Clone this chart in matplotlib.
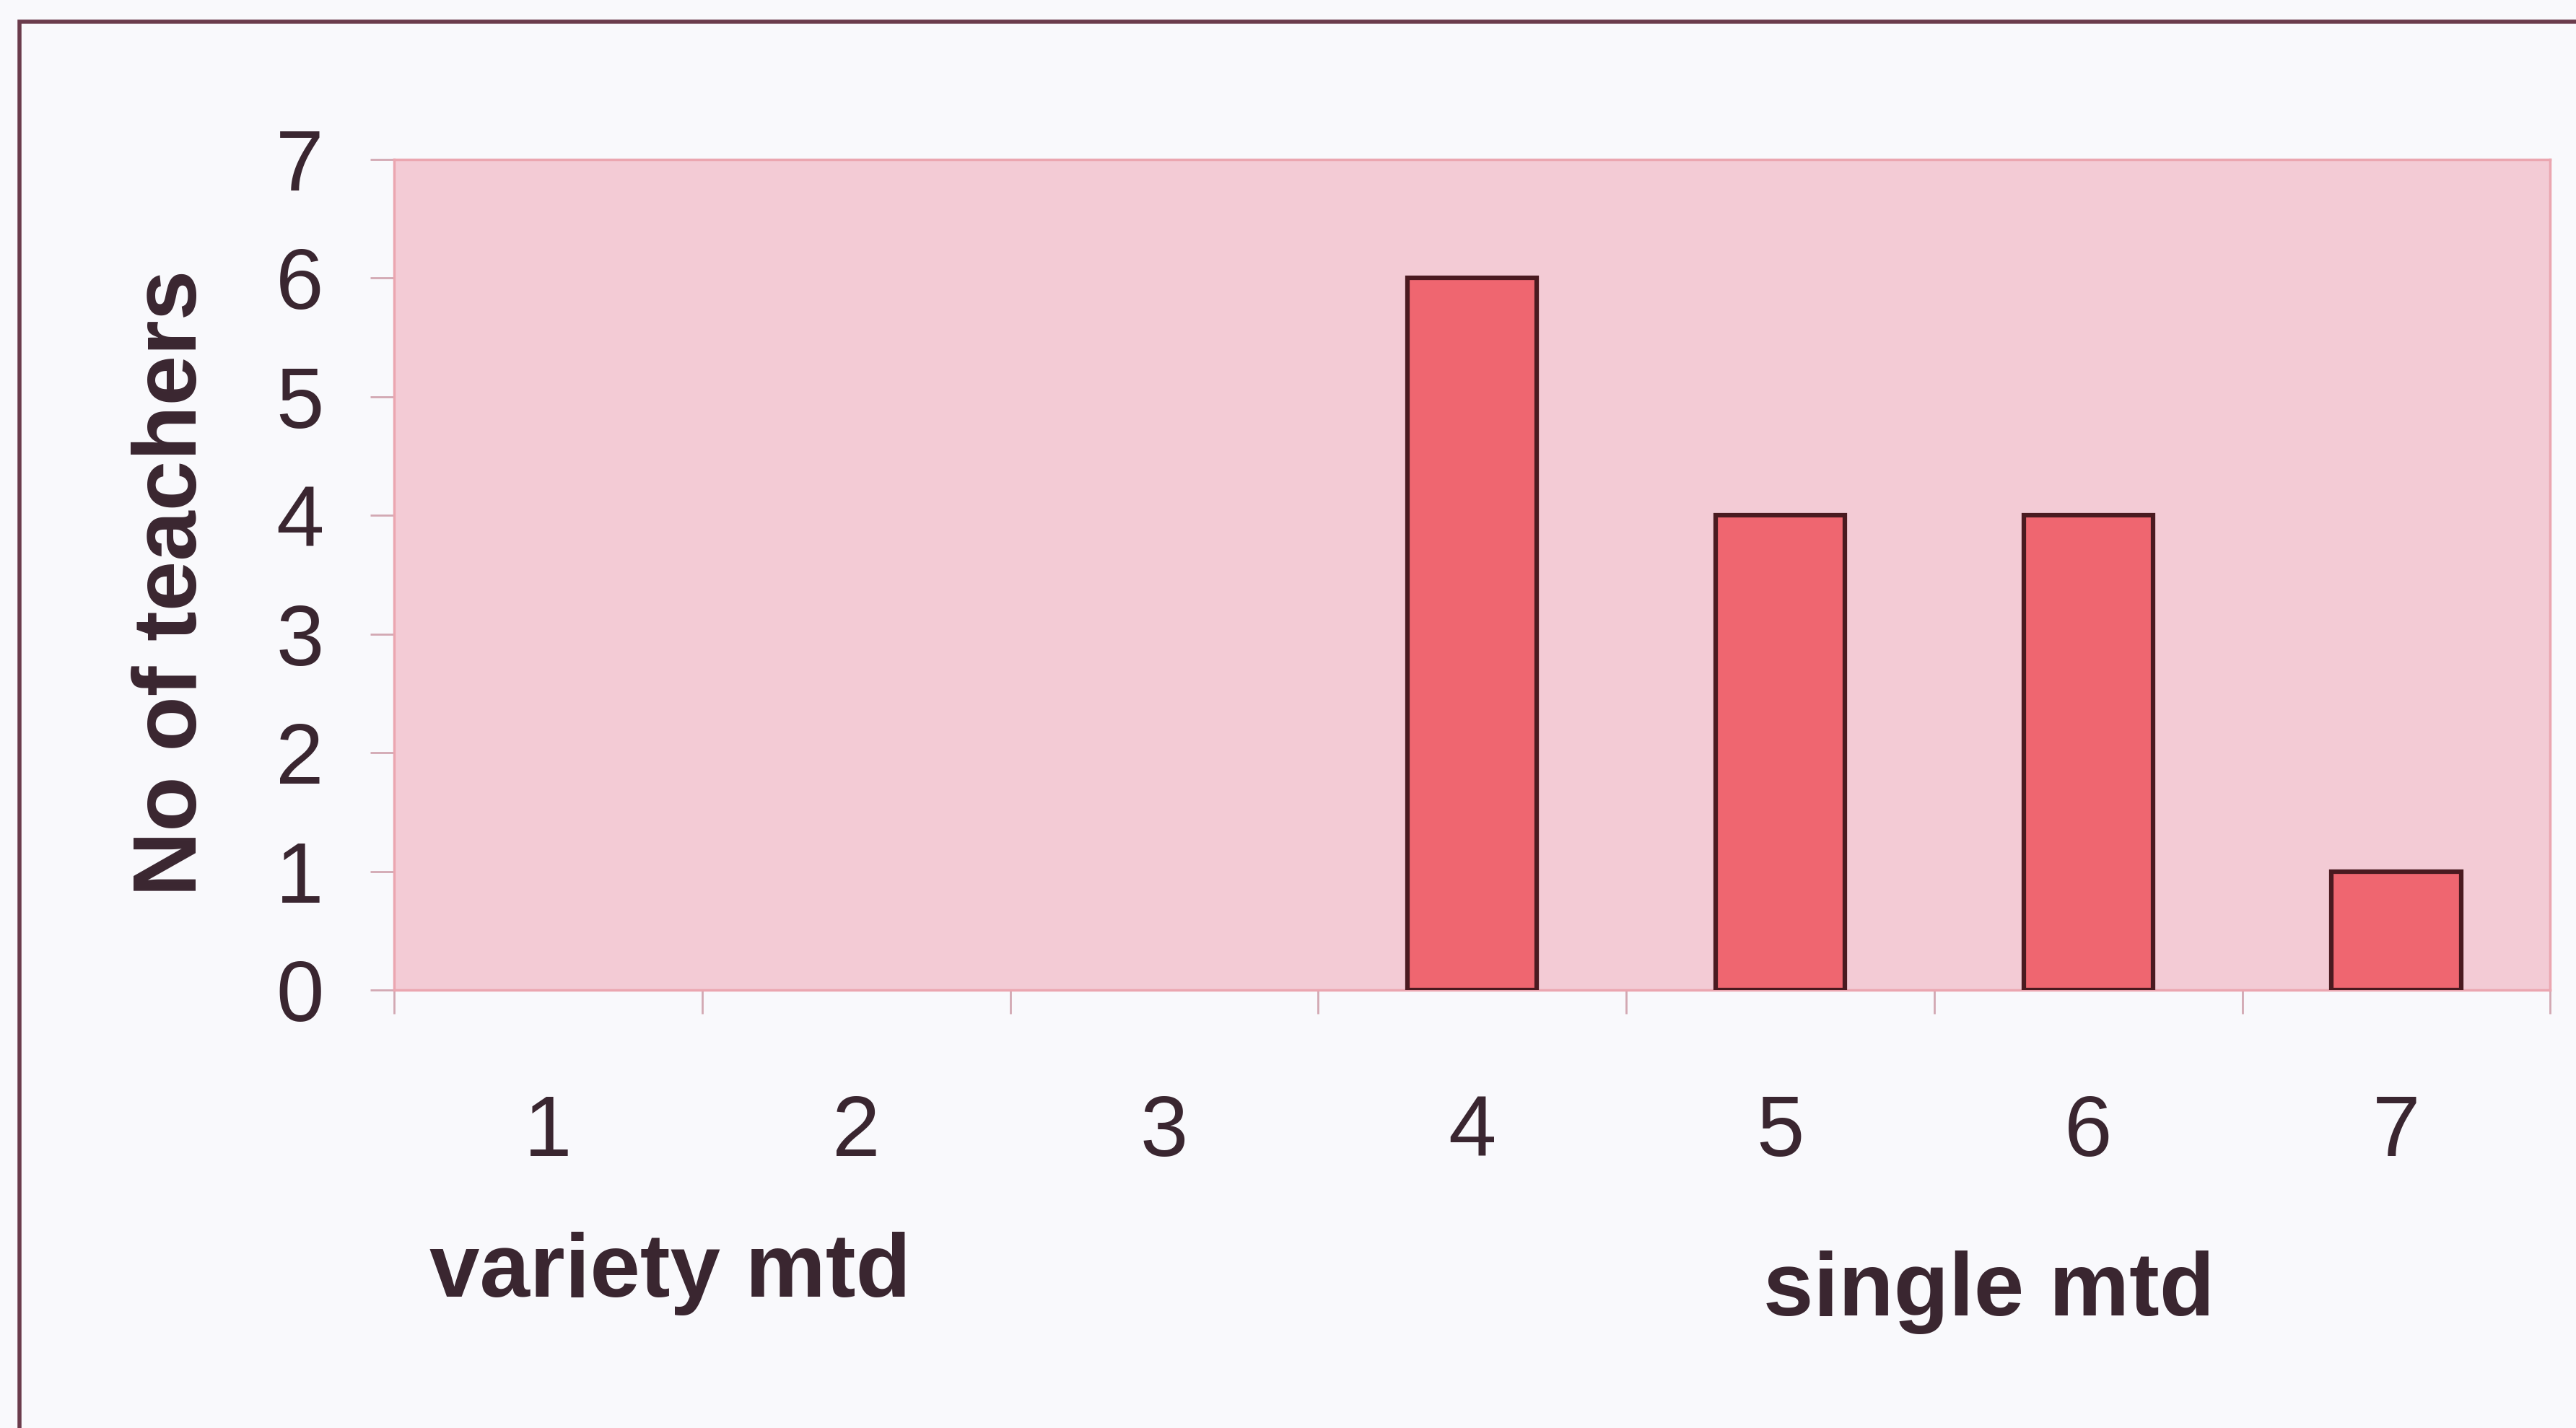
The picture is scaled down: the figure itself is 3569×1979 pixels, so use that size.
import numpy as np
import matplotlib
matplotlib.use('Agg')
from matplotlib import pyplot as plt
from matplotlib.patches import Rectangle

# dados
categorias = [1, 2, 3, 4, 5, 6, 7]
professores = [0, 0, 0, 6, 4, 4, 1]
rotulos_y = [0, 1, 2, 3, 4, 5, 6, 7]

plt.rcParams['font.family'] = ['Liberation Sans', 'DejaVu Sans']

fig = plt.figure(figsize=(35.69, 19.79), dpi=100, facecolor='#f9f9fc')
ax = fig.add_axes([0.153, 0.3067, 0.837, 0.5816])
ax.set_facecolor('#f3cbd5')

# barras de altura zero ficam sem contorno
espessura = [0 if v == 0 else 4.5 for v in professores]
ax.bar(categorias, professores, width=0.42, color='#ef6670',
       edgecolor='#4a1a20', linewidth=espessura, zorder=3)

ax.set_xlim(0.5, 7.5)
ax.set_ylim(0, 7)
ax.set_yticks(rotulos_y)
ax.set_xticks(categorias)
ax.set_xticks(np.arange(0.5, 8.0, 1.0), minor=True)

texto = '#3a2630'
ax.tick_params(axis='y', length=24, width=2, color='#d2a8b2', pad=46,
               labelsize=86, labelcolor=texto)
ax.tick_params(axis='x', which='major', length=0, pad=104,
               labelsize=86, labelcolor=texto)
ax.tick_params(axis='x', which='minor', length=24, width=2, color='#d2a8b2')

for lado in ['top', 'right', 'left', 'bottom']:
    ax.spines[lado].set_color('#eba6b0')
    ax.spines[lado].set_linewidth(2.5)

ax.set_ylabel('No of teachers', fontsize=90, fontweight='bold', color=texto)
ax.yaxis.set_label_coords(-0.083, 0.49)

fig.text(0.26, 0.108, 'variety mtd', fontsize=90, fontweight='bold',
         color=texto, ha='center', va='center')
fig.text(0.772, 0.095, 'single mtd', fontsize=90, fontweight='bold',
         color=texto, ha='center', va='center')

# moldura externa
fig.patches.append(Rectangle((0.0076, -0.05), 1.1, 1.035, transform=fig.transFigure,
                             fill=False, edgecolor='#6b3c4c', linewidth=4))

fig.savefig('out.png', dpi=100, facecolor=fig.get_facecolor())
